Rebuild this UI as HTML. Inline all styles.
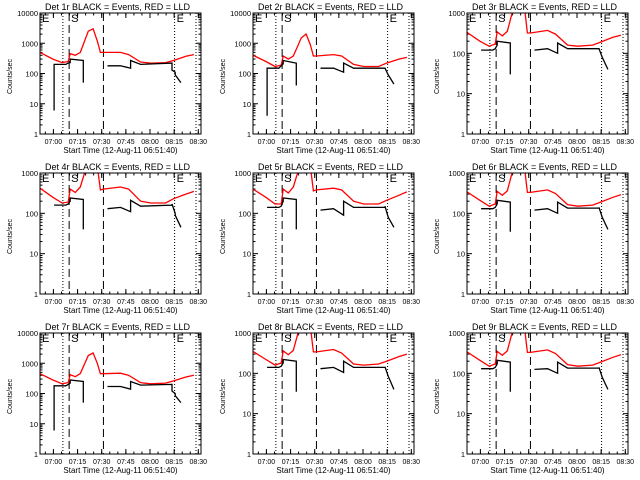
<!DOCTYPE html>
<html><head><meta charset="utf-8"><style>
body{margin:0;background:#fff;}
svg{display:block;font-family:"Liberation Sans",sans-serif;}
</style></head><body>
<svg id="c" width="640" height="480" viewBox="0 0 640 480"></svg>
<script>
// data
const detNames = ["Det 1r","Det 2r","Det 3r","Det 4r","Det 5r","Det 6r","Det 7r","Det 8r","Det 9r"];
const yTopDecade = [4,4,3,3,3,3,4,3,3];
const xTickLabels = ["07:00","07:15","07:30","07:45","08:00","08:15","08:30"];
const xTickMinutes = [8.33,23.33,38.33,53.33,68.33,83.33,98.33];
const markerMinutes = [14.2,18.1,39.4,83.6,96.9];
const markerStyles = ["dot","dash","dash","dot","dot"];
const redTimes = [0,8,13.75,17.5,18.75,21.9,25,30,33,35.6,37.5,39.4,50,55,62.5,68.75,78,83,90.6,95.6];
const red1 = [500,300,230,250,450,400,500,2500,3000,1200,500,500,500,420,240,220,230,270,370,420];
const red2 = [400,250,170,190,380,300,380,1500,2000,900,380,380,420,380,200,170,170,220,300,340];
const red3 = [330,200,150,170,340,270,350,2000,3000,1500,320,320,370,300,160,150,160,190,250,280];
const red4 = [420,250,180,190,400,330,450,2000,3000,1500,380,400,450,400,200,180,180,230,300,350];
const red5 = [400,250,170,170,400,320,450,2000,3000,1500,360,380,420,380,200,170,170,210,280,340];
const red6 = [340,210,150,170,350,280,360,2000,3000,1500,330,330,380,310,165,150,160,190,250,290];
const red7 = [450,280,210,230,420,360,460,1800,2200,1000,450,450,470,400,230,210,220,260,350,400];
const red8 = [350,220,160,180,360,290,370,2000,3000,1500,340,340,390,320,170,160,170,200,260,300];
const red9 = [340,210,150,170,350,280,360,2000,3000,1500,330,330,380,310,165,150,160,190,250,290];
const blackTimes = [8.75,8.75,16,17.5,18.75,18.75,26.9,26.9,null,41.9,50,56.25,56.25,62.5,82,82,84,84,87.5];
const black1 = [6,200,200,220,230,300,270,50,null,180,180,150,270,200,220,130,110,90,50];
const black2 = [4,150,150,180,210,270,220,40,null,150,150,110,220,150,150,150,90,90,45];
const black3 = [120,120,120,130,160,200,180,30,null,120,130,100,180,130,130,130,80,80,40];
const black4 = [160,160,160,170,200,240,220,40,null,130,140,110,210,150,160,170,100,90,45];
const black5 = [140,140,140,150,200,240,220,40,null,120,130,90,200,140,140,150,80,80,45];
const black6 = [130,130,130,140,170,210,190,35,null,120,130,100,190,135,135,140,80,80,40];
const black7 = [6,180,180,200,220,280,250,50,null,170,170,140,250,190,200,120,100,85,50];
const black8 = [140,140,140,150,180,220,200,35,null,130,140,105,200,140,140,145,85,85,40];
const black9 = [130,130,130,140,170,210,190,35,null,125,130,100,190,135,135,140,80,80,40];
const reds=[red1,red2,red3,red4,red5,red6,red7,red8,red9];
const blacks=[black1,black2,black3,black4,black5,black6,black7,black8,black9];

const svg=document.getElementById('c');
const NS='http://www.w3.org/2000/svg';
function mk(tag,attrs,parent){const e=document.createElementNS(NS,tag);for(const k in attrs)e.setAttribute(k,attrs[k]);parent.appendChild(e);return e;}
const PW=161,PH=121,TMAX=100;
for(let d=0;d<9;d++){
  const col=d%3,row=Math.floor(d/3);
  const L=[40,253,467][col],T=13+row*160,B=T+PH,R=L+PW;
  const top=yTopDecade[d];
  const g=mk('g',{},svg);
  
  
  const xs=t=>L+t/TMAX*PW;
  const ys=v=>B-Math.log10(Math.max(v,1e-9))/top*PH;
  const cp=mk('clipPath',{id:'cp'+d},g);mk('rect',{x:L,y:T,width:PW,height:PH},cp);
  const ti=mk('text',{x:L+PW/2-3,y:T-3,'font-size':9,'text-anchor':'middle',fill:'#000'},g);
  ti.textContent=detNames[d]+" BLACK = Events, RED = LLD";
  
  const yl=mk('text',{x:0,y:0,'font-size':7,'text-anchor':'middle',transform:`translate(${L-28},${T+PH/2+3}) rotate(-90)`},g);
  yl.textContent="Counts/sec";
  for(let k=0;k<=top;k++){
    const y=B-k/top*PH;
    mk('line',{x1:L,x2:L+5,y1:y,y2:y,stroke:'#000','stroke-width':1},g);
    mk('line',{x1:R,x2:R-5,y1:y,y2:y,stroke:'#000','stroke-width':1},g);
    const tl=mk('text',{x:L-2,y:y+3,'font-size':7.5,'text-anchor':'end'},g);
    tl.textContent=String(Math.pow(10,k));
    if(k<top)for(let m=2;m<10;m++){const yy=B-(k+Math.log10(m))/top*PH;
      mk('line',{x1:L,x2:L+2.5,y1:yy,y2:yy,stroke:'#000','stroke-width':1},g);
      mk('line',{x1:R,x2:R-2.5,y1:yy,y2:yy,stroke:'#000','stroke-width':1},g);}
  }
  xTickMinutes.forEach((t,i)=>{const x=xs(t);
    mk('line',{x1:x,x2:x,y1:B,y2:B-5,stroke:'#000'},g);mk('line',{x1:x,x2:x,y1:T,y2:T+5,stroke:'#000'},g);
    const tl=mk('text',{x:x,y:B+10,'font-size':7,'text-anchor':'middle'},g);
    tl.textContent=xTickLabels[i];});
  for(let t=xTickMinutes[0]-15;t<=TMAX;t+=5){if(t<0)continue;const x=xs(t);
    mk('line',{x1:x,x2:x,y1:B,y2:B-2.5,stroke:'#000'},g);mk('line',{x1:x,x2:x,y1:T,y2:T+2.5,stroke:'#000'},g);}
  const xl=mk('text',{x:L+PW/2,y:B+19,'font-size':8,'text-anchor':'middle'},g);
  xl.textContent="Start Time (12-Aug-11 06:51:40)";
  markerMinutes.forEach((t,i)=>{const x=xs(t);
    const ln=mk('line',{x1:x,x2:x,y1:T,y2:B,stroke:'#000','stroke-width':1,'stroke-dasharray':markerStyles[i]=='dot'?'1,2':'8,4'},g);
    });
  [["E",L+2],["S",xs(markerMinutes[1])+2],["E",xs(markerMinutes[3])+2]].forEach(([s,x])=>{
    const t=mk('text',{x:x,y:T+9,'font-size':11},g);t.textContent=s;
    });
  function path(ts,vs){let dstr='',pen=false;for(let i=0;i<ts.length;i++){if(ts[i]===null||vs[i]===null){pen=false;continue;}
    dstr+=(pen?'L':'M')+xs(ts[i]).toFixed(1)+' '+ys(vs[i]).toFixed(1)+' ';pen=true;}return dstr;}
  const rp=mk('path',{d:path(redTimes,reds[d]),fill:'none',stroke:'#ff0000','stroke-width':1.3,'clip-path':`url(#cp${d})`},g);
  
  const bp=mk('path',{d:path(blackTimes,blacks[d]),fill:'none',stroke:'#000','stroke-width':1.3,'clip-path':`url(#cp${d})`},g);
  
  const fr=mk('rect',{x:L,y:T,width:PW,height:PH,fill:'none',stroke:'#000','stroke-width':1},g);
  
}
</script>
</body></html>
